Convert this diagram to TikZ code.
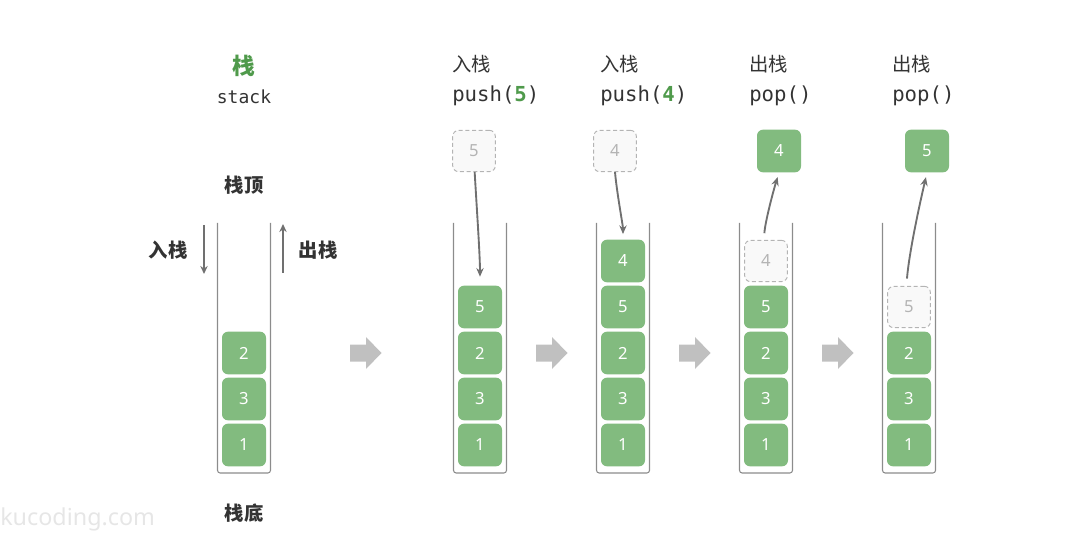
\documentclass[tikz,border=0pt]{standalone}
\usepackage{fontspec}
\newfontfamily\cjk{Noto Sans CJK SC}
\newfontfamily\mono{DejaVu Sans Mono}
\newfontfamily\numf{Noto Sans}
\usetikzlibrary{arrows.meta}
\definecolor{blk}{HTML}{82BB7F}
\definecolor{grn}{HTML}{4F9A4B}
\definecolor{wallc}{HTML}{8C8C8C}
\definecolor{arrc}{HTML}{707070}
\definecolor{ink}{HTML}{333333}
\definecolor{ghostfill}{HTML}{F9F9F9}
\definecolor{ghostline}{HTML}{B4B4B4}
\definecolor{bigarr}{HTML}{C0C0C0}
\definecolor{wmark}{HTML}{E6E6E6}
\newcommand\stackwall[1]{\draw[wallline] (#1-26.5,223) -- (#1-26.5,473) -- (#1+26.5,473) -- (#1+26.5,223);}
\newcommand\bigarrow[1]{\fill[bigarr, shift={(#1,353)}] (-16,-8.5) -- (0,-8.5) -- (0,-16) -- (15.5,0) -- (0,16) -- (0,8.5) -- (-16,8.5) -- cycle;}
\begin{document}
\begin{tikzpicture}[x=0.75pt,y=-0.75pt,
  blkbox/.style={rectangle, rounded corners=4.5pt, fill=blk, minimum width=33pt, minimum height=32pt, inner sep=0pt, text=white, font=\numf\fontsize{12.5}{12.5}\selectfont},
  ghost/.style={rectangle, rounded corners=4.5pt, fill=ghostfill, draw=ghostline, dash pattern=on 3pt off 2pt, line width=0.7pt, minimum width=32pt, minimum height=31pt, inner sep=0pt, text=ghostline, font=\numf\fontsize{12.5}{12.5}\selectfont},
  wallline/.style={draw=wallc, line width=0.8pt, rounded corners=2pt},
  ptr/.style={draw=arrc, line width=1.4pt, -{Stealth[length=6.5pt,width=5.5pt]}},
  sidearr/.style={draw=arrc, line width=1.6pt, -{Stealth[length=6pt,width=5.5pt]}},
  cjkhead/.style={anchor=west, inner sep=0pt, text=ink, font=\cjk\fontsize{14.5}{14.5}\selectfont},
  monohead/.style={anchor=west, inner sep=0pt, text=ink, font=\mono\fontsize{15.5}{15.5}\selectfont},
  boldlabel/.style={inner sep=0pt, text=ink, font=\cjk\bfseries\fontsize{14.5}{14.5}\selectfont}
]
\useasboundingbox (0,0) rectangle (1091,534);

% watermark
\node[anchor=west, inner sep=0pt, text=wmark, font=\numf\fontsize{17.5}{17.5}\selectfont] (wm) at (0,519) {kucoding.com};

% ---------- stack 1 ----------
\node[inner sep=0pt, text=grn, font=\cjk\bfseries\fontsize{17}{17}\selectfont] (title) at (244,66) {栈};
\node[inner sep=0pt, text=ink, font=\mono\fontsize{13.5}{13.5}\selectfont] (titleen) at (244,97) {stack};
\node[boldlabel] (top) at (244,185) {栈顶};
\node[boldlabel] (bottom) at (244,513) {栈底};
\node[boldlabel] (pushlbl) at (168,250) {入栈};
\node[boldlabel] (poplbl) at (318,250) {出栈};
\coordinate (pushA) at (204,225);
\coordinate (pushB) at (204,274);
\coordinate (popA) at (283,273);
\coordinate (popB) at (283,224);
\draw[sidearr] (pushA) -- (pushB);
\draw[sidearr] (popA) -- (popB);
\stackwall{244}
\node[blkbox] (s1b2) at (244,353) {2};
\node[blkbox] (s1b3) at (244,399) {3};
\node[blkbox] (s1b1) at (244,445) {1};

\bigarrow{366}

% ---------- stack 2 : push(5) ----------
\node[cjkhead] (h2a) at (452,64) {入栈};
\node[monohead] (h2b) at (452,96) {push(\textcolor{grn}{\bfseries 5})};
\node[ghost] (g2) at (474,151) {5};
\stackwall{480}
\node[blkbox] (s2b5) at (480,307) {5};
\node[blkbox] (s2b2) at (480,353) {2};
\node[blkbox] (s2b3) at (480,399) {3};
\node[blkbox] (s2b1) at (480,445) {1};
\draw[ptr, shorten >=6.5pt] ([xshift=0.5pt]g2.south) .. controls +(2,35) and +(0,-30) .. (s2b5.north);

\bigarrow{552}

% ---------- stack 3 : push(4) ----------
\node[cjkhead] (h3a) at (600,64) {入栈};
\node[monohead] (h3b) at (600,96) {push(\textcolor{grn}{\bfseries 4})};
\node[ghost] (g3) at (615,151) {4};
\stackwall{623}
\node[blkbox] (s3b4) at (623,261) {4};
\node[blkbox] (s3b5) at (623,307) {5};
\node[blkbox] (s3b2) at (623,353) {2};
\node[blkbox] (s3b3) at (623,399) {3};
\node[blkbox] (s3b1) at (623,445) {1};
\draw[ptr, shorten >=4pt] (g3.south) .. controls +(2,22) and +(0,-14) .. (s3b4.north);

\bigarrow{695}

% ---------- stack 4 : pop() ----------
\node[cjkhead] (h4a) at (749,64) {出栈};
\node[monohead] (h4b) at (749,96) {pop()};
\node[blkbox] (o4) at (779,151) {4};
\stackwall{766}
\node[ghost] (g4) at (766,261) {4};
\node[blkbox] (s4b5) at (766,307) {5};
\node[blkbox] (s4b2) at (766,353) {2};
\node[blkbox] (s4b3) at (766,399) {3};
\node[blkbox] (s4b1) at (766,445) {1};
\draw[ptr, shorten <=5pt, shorten >=3.5pt] ([xshift=-1.5pt]g4.north) .. controls +(1,-18) and +(-5,16) .. (o4.south);

\bigarrow{838}

% ---------- stack 5 : pop() ----------
\node[cjkhead] (h5a) at (892,64) {出栈};
\node[monohead] (h5b) at (892,96) {pop()};
\node[blkbox] (o5) at (927,151) {5};
\stackwall{909}
\node[ghost] (g5) at (909,307) {5};
\node[blkbox] (s5b2) at (909,353) {2};
\node[blkbox] (s5b3) at (909,399) {3};
\node[blkbox] (s5b1) at (909,445) {1};
\draw[ptr, shorten <=5.5pt, shorten >=3.5pt] ([xshift=-2pt]g5.north) .. controls +(3,-35) and +(-7,30) .. (o5.south);
\end{tikzpicture}
\end{document}
